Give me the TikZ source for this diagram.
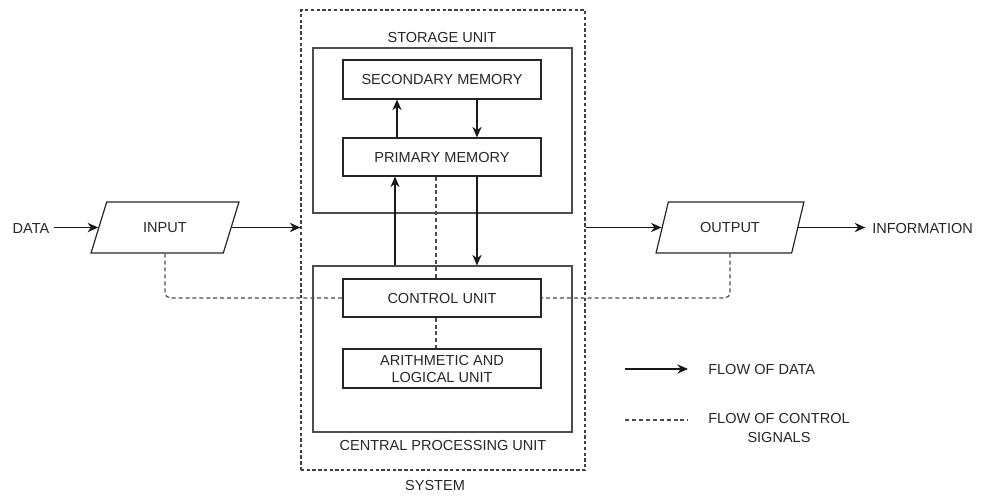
\documentclass[tikz,border=0pt]{standalone}
\usepackage{fontspec}
\setmainfont{Liberation Sans}
\usetikzlibrary{arrows.meta,shapes.geometric}
\begin{document}
\begin{tikzpicture}[x=0.75pt,y=-0.75pt,
  font=\fontsize{10.9}{12.75}\selectfont,
  every node/.style={text=black!85},
  box/.style={draw=black!85,line width=0.9pt,minimum width=148.5pt,inner sep=0pt,align=center},
  outerbox/.style={draw=black!70,line width=0.9pt,inner sep=0pt},
  sysbox/.style={draw=black!75,line width=0.9pt,dash pattern=on 2.5pt off 1.8pt,inner sep=0pt},
  para/.style={draw=black!85,line width=0.9pt,trapezium,trapezium left angle=60,trapezium right angle=120,
    trapezium stretches=true,minimum width=111pt,minimum height=38.25pt,inner sep=0pt},
  arr/.style={line width=0.9pt,black!90,-{Stealth[length=8pt,width=7pt]}},
  ctl/.style={line width=0.9pt,black!70,dash pattern=on 3pt off 2.2pt},
  lbl/.style={inner sep=0pt}]
\useasboundingbox (0,0) rectangle (983,496);
% containers
\node[sysbox,minimum width=213pt,minimum height=345pt] (sys) at (443,240) {};
\node[outerbox,minimum width=194.25pt,minimum height=123.75pt] (sto) at (442.5,130.5) {};
\node[outerbox,minimum width=194.25pt,minimum height=124.5pt] (cpu) at (442.5,349) {};
% inner boxes
\node[box,minimum height=29.25pt] (sec) at (442,79.5) {SECONDARY MEMORY};
\node[box,minimum height=28.5pt] (prim) at (442,157) {PRIMARY MEMORY};
\node[box,minimum height=28.5pt] (cu) at (442,298) {CONTROL UNIT};
\node[box,minimum height=29.25pt] (alu) at (442,368.5) {ARITHMETIC AND\\LOGICAL UNIT};
% labels
\node[lbl] (stolbl) at (442,37) {STORAGE UNIT};
\node[lbl] (cpulbl) at (443,445) {CENTRAL PROCESSING UNIT};
\node[lbl] (syslbl) at (435,485) {SYSTEM};
% io
\node[para] (in) at (165,227.5) {INPUT};
\node[para] (out) at (730,227.5) {OUTPUT};
\node[lbl] (data) at (31,228) {DATA};
\node[lbl,anchor=west] (info) at (872,228) {INFORMATION};
% columns
\coordinate (xa) at (397,0);
\coordinate (xb) at (477,0);
\coordinate (xc) at (395,0);
\coordinate (xd) at (436,0);
% data flow
\draw[arr] ([xshift=3pt]data.east |- in.left side) -- (in.left side);
\draw[arr] (in.right side) -- (in.right side -| sys.west);
\draw[arr] (out.left side -| sys.east) -- (out.left side);
\draw[arr] (out.right side) -- ([xshift=-5pt]info.west |- out.right side);
\draw[arr] (prim.north -| xa) -- (sec.south -| xa);
\draw[arr] (sec.south -| xb) -- (prim.north -| xb);
\draw[arr] (cpu.north -| xc) -- (prim.south -| xc);
\draw[arr] (prim.south -| xb) -- (cpu.north -| xb);
% control flow
\draw[ctl] (prim.south -| xd) -- (cu.north -| xd);
\draw[ctl] (cu.south -| xd) -- (alu.north -| xd);
\draw[ctl,rounded corners=4pt] (in.south) -- (in.south |- cu.west) -- (cu.west);
\draw[ctl,rounded corners=4pt] (out.south) -- (out.south |- cu.east) -- (cu.east);
% legend
\coordinate (la) at (625,369);
\coordinate (lb) at (688,369);
\coordinate (lc) at (625,420);
\coordinate (ld) at (688,420);
\draw[arr] (la) -- (lb);
\draw[ctl] (lc) -- (ld);
\node[lbl,anchor=west] (leg1) at (708,369) {FLOW OF DATA};
\node[lbl,align=center,font=\fontsize{10.9}{14.25}\selectfont] (leg2) at (779,427.5) {FLOW OF CONTROL\\SIGNALS};
\end{tikzpicture}
\end{document}
